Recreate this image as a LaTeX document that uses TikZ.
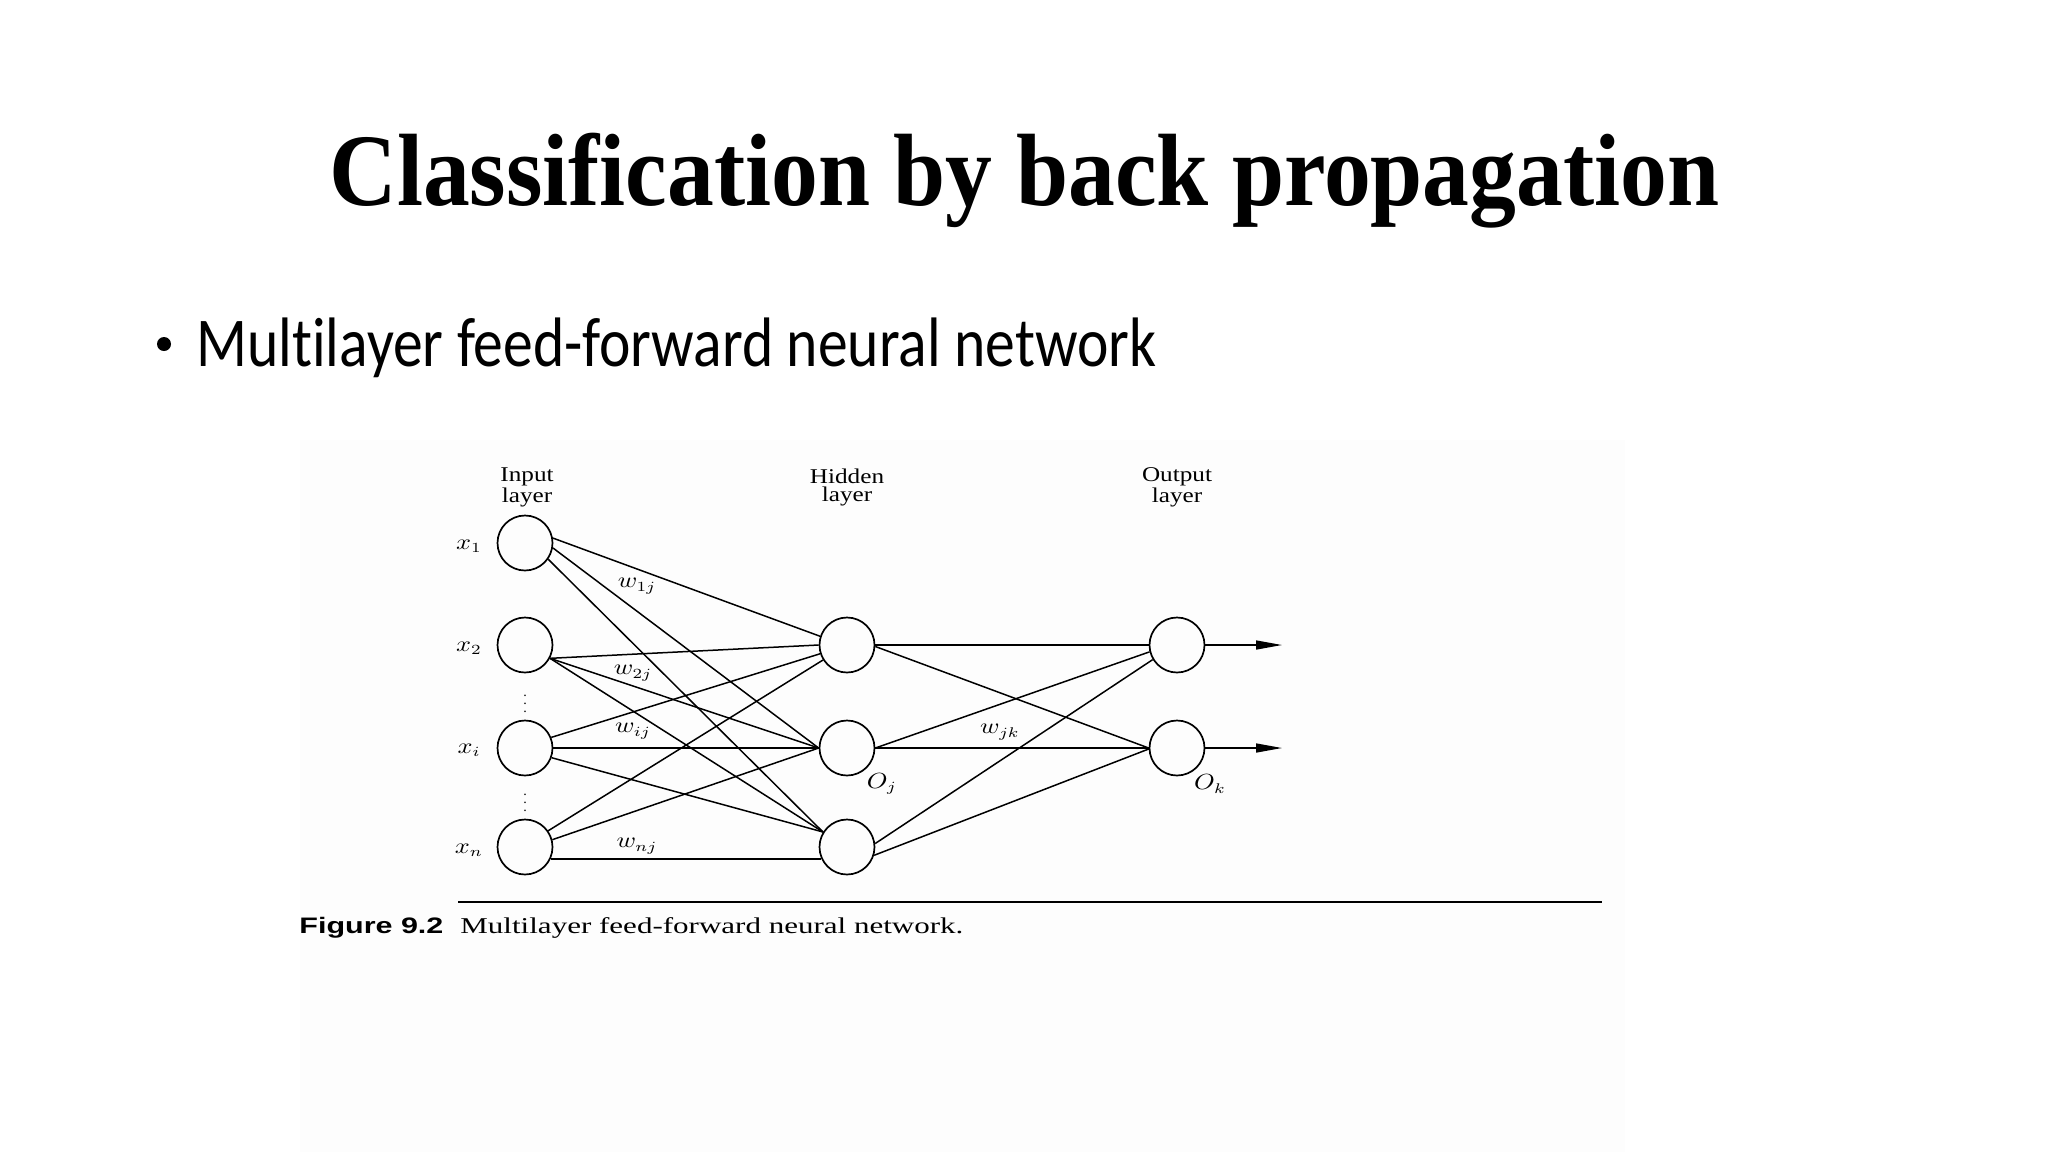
\documentclass[tikz,border=0pt]{standalone}
\usepackage{fontspec}
\setmainfont{Liberation Serif}
\newfontfamily\calibri[Ligatures=NoCommon]{Carlito}
\newfontfamily\capsans{Liberation Sans}
\usetikzlibrary{arrows.meta}
\definecolor{figbg}{RGB}{253,253,253}
\newcommand\wide[1]{\scalebox{1.2}[1]{#1}}
\begin{document}
\begin{tikzpicture}[x=0.5pt,y=-0.5pt,
  neuron/.style={circle,draw,line width=0.85pt,minimum size=27.5pt,inner sep=0pt},
  wire/.style={line width=0.75pt},
  layerlab/.style={align=center,font=\fontsize{10.5}{9}\selectfont,inner sep=0pt},
  mlab/.style={inner sep=0pt,font=\fontsize{10.5}{12}\selectfont},
  outarrow/.style={wire,-{Triangle[length=13pt,width=4.5pt]}},
]
\useasboundingbox (0,0) rectangle (2048,1152);
\fill[white] (0,0) rectangle (2048,1152);
\fill[figbg] (300,440) rectangle (1625,1152);

% title and bullet
\node[anchor=base west,inner sep=0pt] (title) at (329,205)
  {\resizebox{695pt}{\height}{\fontsize{51.4}{60}\selectfont\bfseries Classification by back propagation}};
\node[inner sep=0pt,circle,fill=black,minimum size=7pt] (dot) at (164,344) {};
\node[anchor=base west,inner sep=0pt] (bullet) at (196,366)
  {\resizebox{480pt}{\height}{\calibri\fontsize{35}{42}\selectfont Multilayer feed-forward neural network}};

% neurons
\node[neuron] (i1) at (525,543) {};
\node[neuron] (i2) at (525,645) {};
\node[neuron] (i3) at (525,748) {};
\node[neuron] (i4) at (525,847) {};
\node[neuron] (h1) at (847,645) {};
\node[neuron] (h2) at (847,748) {};
\node[neuron] (h3) at (847,847) {};
\node[neuron] (o1) at (1177,645) {};
\node[neuron] (o2) at (1177,748) {};
\coordinate (e1) at (1282,645);
\coordinate (e2) at (1282,748);

% input -> hidden
\draw[wire] (i1.10) -- (h1.162);
\draw[wire] (i1.-10) -- (h2.180);
\draw[wire] (i1.-35) -- (h3.148);
\draw[wire] (i2.-28) -- (h1.180);
\draw[wire] (i2.-28) -- (h2.180);
\draw[wire] (i2.-28) -- (h3.148);
\draw[wire] (i3.22) -- (h1.198);
\draw[wire] (i3.0) -- (h2.180);
\draw[wire] (i3.-20) -- (h3.148);
\draw[wire] (i4.35) -- (h1.212);
\draw[wire] (i4.15) -- (h2.180);
\draw[wire] (i4.-25) -- (h3.205);

% hidden -> output
\draw[wire] (h1.0) -- (o1.180);
\draw[wire] (h1.-3) -- (o2.180);
\draw[wire] (h2.0) -- (o1.194);
\draw[wire] (h2.0) -- (o2.180);
\draw[wire] (h3.7) -- (o1.211);
\draw[wire] (h3.-17) -- (o2.182);

% outputs
\draw[outarrow] (o1.east) -- (e1);
\draw[outarrow] (o2.east) -- (e2);

% layer labels
\node[layerlab] (linput) at (527,487) {\wide{Input}\\\wide{layer}};
\node[layerlab] (lhidden) at (847,487) {\wide{Hidden}\\\wide{layer}};
\node[layerlab] (loutput) at (1177,487) {\wide{Output}\\\wide{layer}};

% input labels
\node[mlab] (lx1) at (469,546) {\wide{$x_1$}};
\node[mlab] (lx2) at (469,648) {\wide{$x_2$}};
\node[mlab] (lxi) at (469,750) {\wide{$x_i$}};
\node[mlab] (lxn) at (469,850) {\wide{$x_n$}};
\node[mlab,font=\fontsize{7}{8}\selectfont] (vd1) at (525,698) {$\vdots$};
\node[mlab,font=\fontsize{7}{8}\selectfont] (vd2) at (525,797) {$\vdots$};

% weights and outputs
\node[mlab] (w1) at (637,586) {\wide{$w_{1j}$}};
\node[mlab] (w2) at (633,673) {\wide{$w_{2j}$}};
\node[mlab] (wi) at (633,731) {\wide{$w_{ij}$}};
\node[mlab] (wn) at (637,846) {\wide{$w_{nj}$}};
\node[mlab] (wjk) at (1000,732) {\wide{$w_{jk}$}};
\node[mlab] (oj) at (882,784) {\wide{$O_j$}};
\node[mlab] (ok) at (1210,784) {\wide{$O_k$}};

% caption
\coordinate (r1) at (458,902);
\coordinate (r2) at (1602,902);
\draw[line width=1.3pt] (r1) -- (r2);
\node[anchor=base west,inner sep=0pt] (figno) at (299,933)
  {\resizebox{72pt}{\height}{\capsans\bfseries\fontsize{11.2}{13}\selectfont Figure 9.2}};
\node[anchor=base west,inner sep=0pt] (caption) at (460,933)
  {\resizebox{251.5pt}{\height}{\fontsize{11.3}{13}\selectfont Multilayer feed-forward neural network.}};
\end{tikzpicture}
\end{document}
